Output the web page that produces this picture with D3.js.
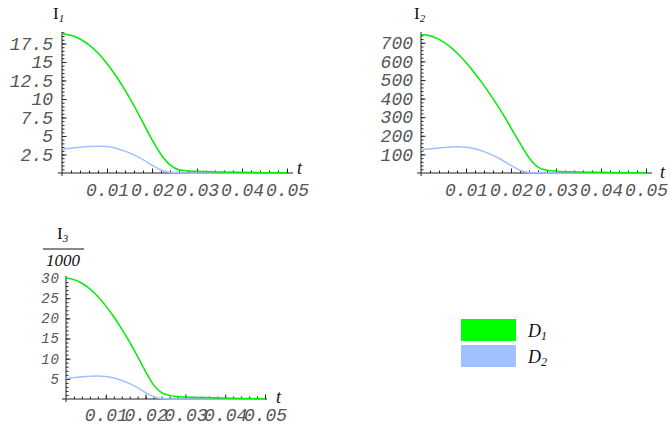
<!DOCTYPE html>
<html>
<head>
<meta charset="utf-8">
<script src="https://cdn.jsdelivr.net/npm/d3@7.9.0/dist/d3.min.js"></script>
<style>
  body { margin: 0; background: #fff; }
  svg { display: block; }
  .tick text { font-family: "Liberation Mono", "Courier New", monospace; font-style: italic; fill: #555; }
  .ttl { font-family: "Liberation Serif", "Times New Roman", serif; fill: #111; }
</style>
</head>
<body>
<svg id="chart" width="671" height="428"></svg>
<script>
// time samples (s)
const T = [0, 0.002, 0.004, 0.006, 0.008, 0.010, 0.012, 0.014, 0.016, 0.018,
           0.020, 0.022, 0.024, 0.026, 0.028, 0.030, 0.035, 0.040, 0.045, 0.050];

// series
const I1_D1 = [18.8, 18.6, 18.1, 17.3, 16.2, 14.8, 13.1, 11.2, 9.1, 6.8,
               4.5, 2.5, 1.1, 0.45, 0.28, 0.22, 0.15, 0.09, 0.05, 0.03];
const I1_D2 = [3.24, 3.35, 3.48, 3.58, 3.63, 3.58, 3.35, 2.95, 2.45, 1.8,
               1.05, 0.4, 0.08, 0.02, 0.01, 0.01, 0.01, 0.01, 0.01, 0.01];
const I2_D1 = [745, 738, 718, 687, 645, 594, 535, 470, 400, 325,
               243, 160, 82, 32, 15, 10, 6, 4, 2, 1];
const I2_D2 = [125, 130, 135, 139, 141, 139, 130, 115, 95, 70,
               41, 15, 3, 1, 0.5, 0.5, 0.5, 0.5, 0.5, 0.5];
const I3_D1 = [30, 29.6, 28.7, 27.3, 25.4, 23.1, 20.4, 17.4, 14.1, 10.5,
               6.8, 3.5, 1.6, 0.9, 0.6, 0.5, 0.35, 0.22, 0.12, 0.06];
const I3_D2 = [5.1, 5.3, 5.5, 5.65, 5.7, 5.6, 5.2, 4.6, 3.8, 2.8,
               1.6, 0.6, 0.12, 0.03, 0.02, 0.02, 0.02, 0.02, 0.02, 0.02];

// ticks
const xMajor = [0.01, 0.02, 0.03, 0.04, 0.05];
const xMinor = d3.range(0.002, 0.0511, 0.002);
const y1Major = [2.5, 5, 7.5, 10, 12.5, 15, 17.5];
const y2Major = [100, 200, 300, 400, 500, 600, 700];
const y3Major = [5, 10, 15, 20, 25, 30];

const legendNames = ["D", "D"];
const legendSubs = ["1", "2"];
const legendColors = ["#00ff00", "#9fc2ff"];

const GREEN = "#00ee00", BLUE = "#9fc2ff";

const svg = d3.select("#chart");

function panel(o) {
  const g = svg.append("g");
  const x = d3.scaleLinear().domain([0, 0.05]).range([o.x0, o.x1]);
  const y = d3.scaleLinear().domain([0, o.yTop]).range([o.y0, o.y1]);

  // minor ticks
  g.append("g").attr("transform", `translate(0,${o.y0})`)
    .call(d3.axisBottom(x).tickValues(xMinor).tickSize(-2.5).tickFormat(""))
    .call(s => s.select(".domain").remove());
  g.append("g").attr("transform", `translate(${o.x0},0)`)
    .call(d3.axisLeft(y).tickValues(d3.range(o.yMinor, o.yTop, o.yMinor)).tickSize(-2.5).tickFormat(""))
    .call(s => s.select(".domain").remove());

  // major ticks + labels
  g.append("g").attr("transform", `translate(0,${o.y0})`)
    .call(d3.axisBottom(x).tickValues(xMajor).tickSize(-4.5).tickPadding(o.xPad)
      .tickFormat(d3.format(".2f")))
    .call(s => s.select(".domain").remove())
    .call(s => s.selectAll("text").style("font-size", "18px"));
  g.append("g").attr("transform", `translate(${o.x0},0)`)
    .call(d3.axisLeft(y).tickValues(o.yTicks).tickSize(-4.5).tickPadding(o.yPad)
      .tickFormat(d => String(d)))
    .call(s => s.select(".domain").remove())
    .call(s => s.selectAll("text").style("font-size", o.yFont + "px").attr("letter-spacing", o.yLs));

  g.selectAll(".tick line").attr("stroke", "#222");

  // axis lines
  g.append("line").attr("x1", o.x0 - 4).attr("x2", o.xEnd)
    .attr("y1", o.y0).attr("y2", o.y0).attr("stroke", "#222");
  g.append("line").attr("x1", o.x0).attr("x2", o.x0)
    .attr("y1", o.y0 + 3).attr("y2", y(o.yTop)).attr("stroke", "#222");

  const line = d3.line().x((d, i) => x(T[i])).y(d => y(d)).curve(d3.curveMonotoneX);
  g.append("path").attr("d", line(o.d2)).attr("fill", "none")
    .attr("stroke", BLUE).attr("stroke-width", 1.5);
  g.append("path").attr("d", line(o.d1)).attr("fill", "none")
    .attr("stroke", GREEN).attr("stroke-width", 1.5);

  // t label
  g.append("text").attr("class", "ttl").attr("x", o.tx).attr("y", o.ty)
    .style("font-size", "18px").style("font-style", "italic").text("t");
  return g;
}

panel({ x0: 62, x1: 287, xEnd: 293, y0: 173, y1: 32, yTop: 19.05, yMinor: 0.5,
  yTicks: y1Major, yFont: 18, yLs: 0, yPad: 9, xPad: 10, d1: I1_D1, d2: I1_D2, tx: 297, ty: 174 });
panel({ x0: 421, x1: 646, xEnd: 652, y0: 173, y1: 32, yTop: 758, yMinor: 20,
  yTicks: y2Major, yFont: 18, yLs: 0, yPad: 8, xPad: 10, d1: I2_D1, d2: I2_D2, tx: 660, ty: 178 });
panel({ x0: 66, x1: 265, xEnd: 267, y0: 399, y1: 276, yTop: 30.5, yMinor: 1,
  yTicks: y3Major, yFont: 14, yLs: 1, yPad: 6, xPad: 9, d1: I3_D1, d2: I3_D2, tx: 276, ty: 403 });

// axis titles
function ttl(xp, yp, sub) {
  const t = svg.append("text").attr("class", "ttl").attr("x", xp).attr("y", yp).style("font-size", "17px");
  t.append("tspan").text("I");
  t.append("tspan").attr("dy", 3).style("font-size", "11px").style("font-style", "italic").text(sub);
}
ttl(53, 19, "1");
ttl(414, 19, "2");
ttl(57, 239, "3");
svg.append("line").attr("x1", 43).attr("x2", 84).attr("y1", 249).attr("y2", 249).attr("stroke", "#111");
svg.append("text").attr("class", "ttl").attr("x", 63).attr("y", 266).attr("text-anchor", "middle")
  .style("font-size", "17px").style("font-style", "italic").text("1000");

// legend
const lg = svg.append("g");
legendColors.forEach((c, i) => {
  lg.append("rect").attr("x", 461).attr("y", 319 + i * 26).attr("width", 55).attr("height", 22).attr("fill", c);
  const t = lg.append("text").attr("class", "ttl").attr("x", 528).attr("y", 337 + i * 26)
    .style("font-size", "18px").style("font-style", "italic");
  t.append("tspan").text(legendNames[i]);
  t.append("tspan").attr("dy", 3).style("font-size", "12px").text(legendSubs[i]);
});
</script>
</body>
</html>
